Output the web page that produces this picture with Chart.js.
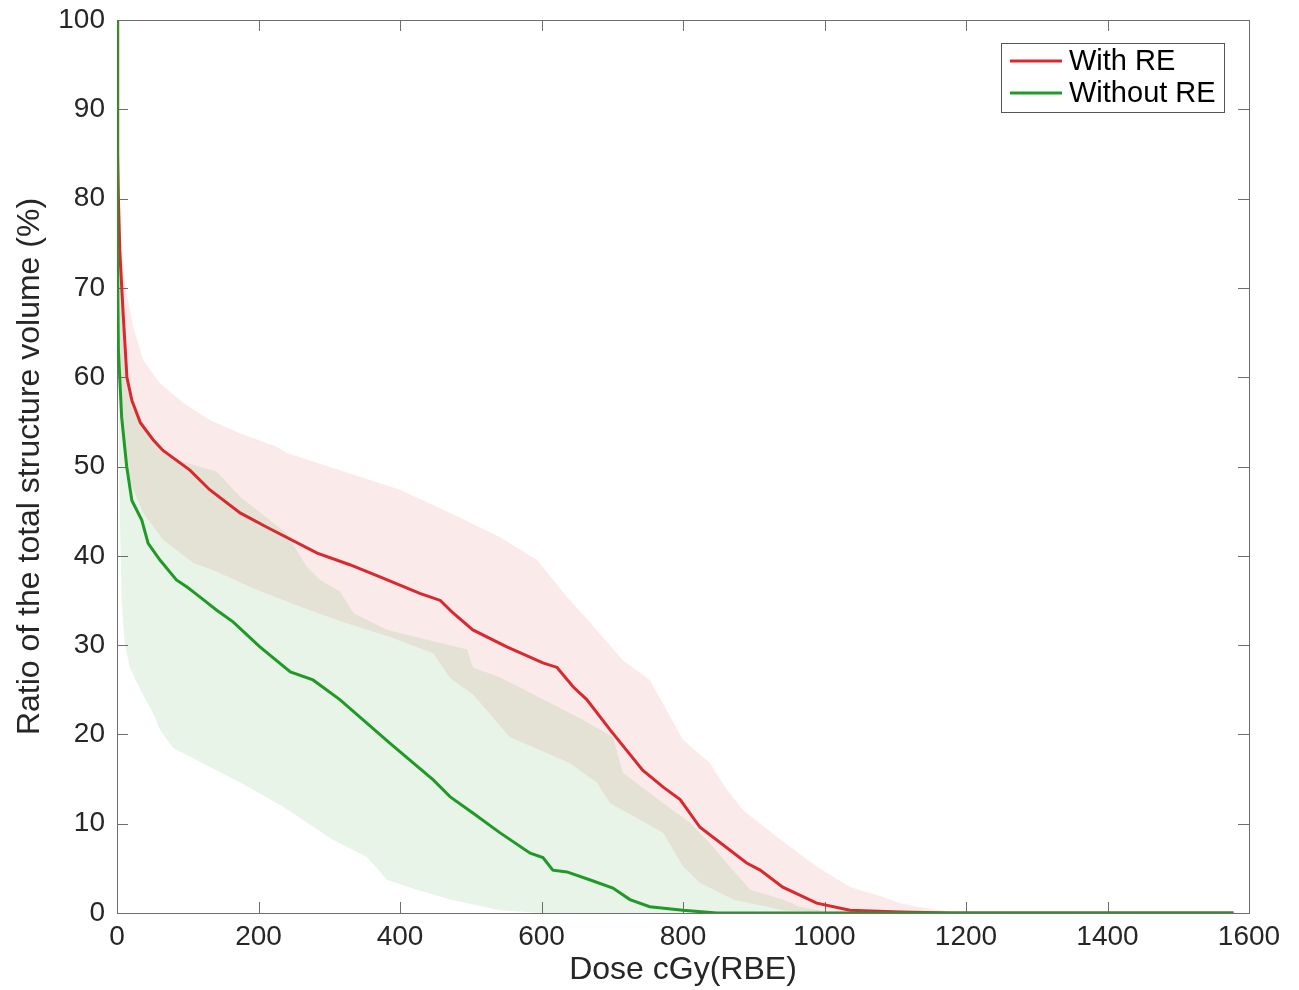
<!DOCTYPE html>
<html>
<head>
<meta charset="utf-8">
<script src="https://cdn.jsdelivr.net/npm/chart.js@4.4.0/dist/chart.umd.min.js"></script>
<style>
  html, body { margin: 0; padding: 0; background: #fff; }
  #wrap { width: 1299px; height: 990px; }
</style>
</head>
<body>
<div id="wrap"><canvas id="dvh"></canvas></div>
<script>
// series labels
const seriesLabels = ['With RE', 'Without RE'];

// [dose, volume %] pairs
const withReMean = [[0,100],[1,85],[2,80],[4,74],[9,66.7],[14,60],[21,57.4],[33,54.9],[51,53],[65,51.8],[103,49.6],[131,47.4],[174,44.8],[212,43.2],[283,40.3],[329,39],[376,37.5],[428,35.8],[457,35],[475,33.6],[503,31.7],[551,29.8],[602,28],[622,27.5],[645,25.3],[664,23.9],[697,20.5],[743,16],[772,14.1],[796,12.7],[824,9.6],[890,5.6],[909,4.8],[941,2.9],[989,1.1],[1036,0.3],[1107,0.1],[1177,0],[1578,0]];
const withReUpper = [[0,100],[2,85],[5,76],[11,70.5],[23,65.6],[37,61.9],[61,59.3],[94,57.1],[131,55.2],[174,53.7],[226,52.2],[240,51.5],[400,47.4],[471,44.8],[541,42.1],[594,39.5],[636,35.4],[669,32.5],[715,28.3],[753,26.1],[800,19.4],[838,16.8],[862,13.8],[885,11.5],[933,8.5],[989,5.2],[1036,2.9],[1083,1.8],[1107,1.1],[1131,0.7],[1177,0.1],[1200,0]];
const withReLower = [[0,100],[2,72],[5,60],[10,53],[16,48.8],[37,44.8],[65,41.8],[108,39.2],[136,38.4],[188,36.5],[259,34.3],[319,32.6],[386,30.9],[447,29.1],[471,26.3],[503,24.5],[555,19.7],[640,16.8],[678,14.6],[697,12.3],[772,9],[800,5.2],[824,3.4],[871,1.5],[919,0.7],[941,0.3],[1000,0],[1200,0]];

const withoutReMean = [[0,100],[0.5,74],[2,63],[6.6,55.5],[13.7,50],[21,46.2],[35,44],[44,41.4],[61,39.5],[84,37.3],[99,36.5],[117,35.4],[141,33.9],[164,32.6],[202,29.8],[245,27],[277,26.1],[315,23.9],[386,19],[447,14.9],[471,13],[503,11.2],[541,9.0],[584,6.7],[602,6.2],[616,4.8],[636,4.6],[669,3.7],[701,2.8],[725,1.5],[753,0.7],[800,0.3],[848,0],[1578,0]];
const withoutReUpper = [[0,100],[3,78],[8,66],[13,60],[18,58.6],[37,54.9],[42,54.1],[70,51.3],[99,50.4],[141,49.4],[174,46.6],[240,42.5],[268,38.8],[287,37.3],[315,36],[334,33.6],[382,31.7],[495,29.5],[503,27.5],[541,26.4],[659,21.6],[701,19.7],[715,15.7],[772,12.3],[810,10.1],[838,7.8],[866,5.2],[895,2.6],[941,1.5],[965,0.7],[1000,0.2],[1200,0]];
const withoutReLower = [[0,100],[2,60],[4,45],[6.6,35],[11,30.2],[18,27.5],[33,25],[51,22.4],[61,20.5],[79,18.5],[113,17.1],[174,14.6],[235,11.9],[305,8.2],[353,6.3],[382,3.7],[424,2.6],[471,1.5],[541,0.3],[600,0],[1200,0]];

// axis ticks
const doseTicks = [0, 200, 400, 600, 800, 1000, 1200, 1400, 1600];
const volumeTicks = [0, 10, 20, 30, 40, 50, 60, 70, 80, 90, 100];

const RED = '#d9292f';
const GREEN = '#1f9a27';
const RED_FILL = 'rgba(220,45,45,0.1)';
const GREEN_FILL = 'rgba(30,150,30,0.1)';
const AXIS = '#6e6e6e';
const TEXT = '#262626';
const FONT = "'Liberation Sans', Arial, Helvetica, sans-serif";

const pts = arr => arr.map(p => ({ x: p[0], y: p[1] }));

// box + inward ticks like a matlab axes
const framePlugin = {
  id: 'frame',
  beforeDatasetsDraw(chart) {
    const { ctx, chartArea: a, scales } = chart;
    const len = 11;
    ctx.save();
    ctx.strokeStyle = AXIS;
    ctx.lineWidth = 1;
    ctx.strokeRect(a.left + 0.5, a.top + 0.5, a.right - a.left, a.bottom - a.top);
    ctx.beginPath();
    doseTicks.forEach(v => {
      const x = Math.round(scales.x.getPixelForValue(v)) + 0.5;
      ctx.moveTo(x, a.bottom); ctx.lineTo(x, a.bottom - len);
      ctx.moveTo(x, a.top); ctx.lineTo(x, a.top + len);
    });
    volumeTicks.forEach(v => {
      const y = Math.round(scales.y.getPixelForValue(v)) + 0.5;
      ctx.moveTo(a.left, y); ctx.lineTo(a.left + len, y);
      ctx.moveTo(a.right, y); ctx.lineTo(a.right - len, y);
    });
    ctx.stroke();
    ctx.restore();
  }
};

const legendPlugin = {
  id: 'boxLegend',
  afterDraw(chart) {
    const { ctx } = chart;
    const colors = [RED, GREEN];
    ctx.save();
    ctx.fillStyle = '#fff';
    ctx.fillRect(1001, 43, 223, 69);
    ctx.strokeStyle = '#555';
    ctx.lineWidth = 1;
    ctx.strokeRect(1001.5, 43.5, 223, 69);
    ctx.font = '29px ' + FONT;
    ctx.textBaseline = 'middle';
    seriesLabels.forEach((lab, i) => {
      const y = 61 + i * 32;
      ctx.strokeStyle = colors[i];
      ctx.lineWidth = 3;
      ctx.beginPath();
      ctx.moveTo(1010, y); ctx.lineTo(1062, y);
      ctx.stroke();
      ctx.fillStyle = '#000';
      ctx.fillText(lab, 1069, y + 1);
    });
    ctx.restore();
  }
};

const band = (data, fill, color, order) => ({
  data: pts(data), fill: fill, backgroundColor: color, borderWidth: 0,
  pointRadius: 0, tension: 0, order: order
});

const noPad = s => { s.paddingTop = 0; s.paddingBottom = 0; s.paddingLeft = 0; s.paddingRight = 0; };

new Chart(document.getElementById('dvh'), {
  type: 'line',
  data: {
    datasets: [
      { label: seriesLabels[1], data: pts(withoutReMean), borderColor: GREEN, borderWidth: 3, pointRadius: 0, fill: false, order: 0 },
      { label: seriesLabels[0], data: pts(withReMean), borderColor: RED, borderWidth: 3, pointRadius: 0, fill: false, order: 1 },
      band(withReUpper, '+1', RED_FILL, 3),
      band(withReLower, false, 'transparent', 3),
      band(withoutReUpper, '+1', GREEN_FILL, 2),
      band(withoutReLower, false, 'transparent', 2)
    ]
  },
  options: {
    responsive: true,
    maintainAspectRatio: false,
    animation: false,
    devicePixelRatio: 1,
    layout: { padding: { top: 20, right: 50, bottom: 0, left: 0 } },
    plugins: { legend: { display: false }, tooltip: { enabled: false } },
    scales: {
      x: {
        type: 'linear', min: 0, max: 1600,
        afterBuildTicks: s => { s.ticks = doseTicks.map(v => ({ value: v })); },
        afterFit: s => { s.height = 77; noPad(s); },
        grid: { display: false, drawTicks: false },
        border: { display: false },
        ticks: { color: TEXT, font: { family: FONT, size: 28 }, padding: 7, maxRotation: 0, autoSkip: false, callback: v => String(v) },
        title: { display: true, text: 'Dose cGy(RBE)', color: TEXT, font: { family: FONT, size: 32 }, padding: { top: 0, bottom: 1 } }
      },
      y: {
        type: 'linear', min: 0, max: 100,
        afterBuildTicks: s => { s.ticks = volumeTicks.map(v => ({ value: v })); },
        afterFit: s => { s.width = 117; noPad(s); },
        grid: { display: false, drawTicks: false },
        border: { display: false },
        ticks: { color: TEXT, font: { family: FONT, size: 28 }, padding: 12, callback: v => String(v) },
        title: { display: true, text: 'Ratio of the total structure volume (%)', color: TEXT, font: { family: FONT, size: 32 }, padding: { top: 11, bottom: 0 } }
      }
    }
  },
  plugins: [framePlugin, legendPlugin]
});
</script>
</body>
</html>
